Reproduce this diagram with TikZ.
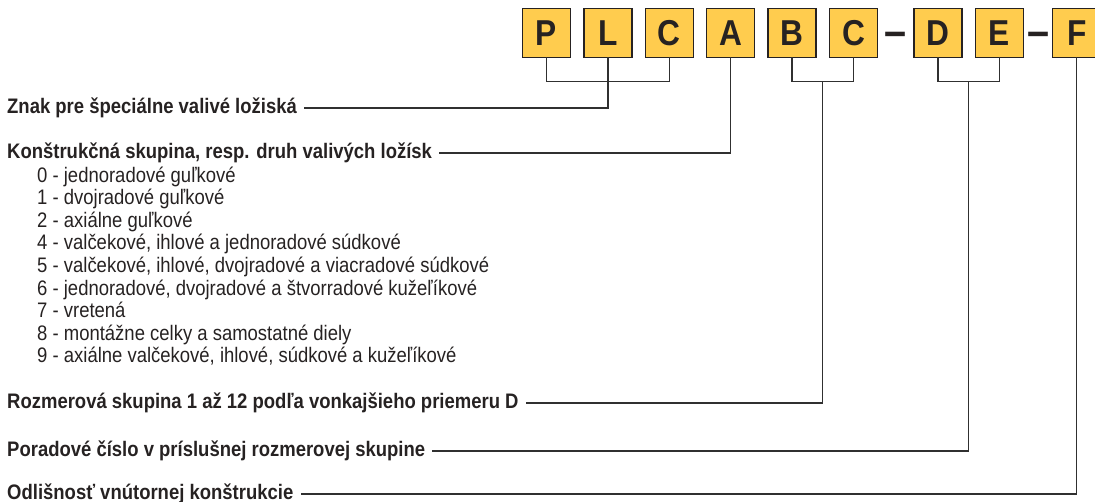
\documentclass[tikz,border=0pt]{standalone}
\usepackage{fontspec}
\setmainfont[FakeStretch=0.88]{Liberation Sans}
\usepackage{tikz}
\usetikzlibrary{positioning,calc}
\definecolor{lzedge}{RGB}{38,34,34}
\definecolor{lzfill}{RGB}{255,204,78}
\definecolor{lzline}{RGB}{48,48,48}
\tikzset{
  znak/.style={
    draw=lzedge, fill=lzfill, line width=1.4pt, outer sep=0pt,
    minimum width=48pt, minimum height=48.6pt, inner sep=0pt,
    font=\fontsize{36}{40}\selectfont\bfseries, text=lzedge
  },
  pomlcka/.style={
    inner sep=0pt, font=\fontsize{45}{50}\selectfont\bfseries, text=lzedge,
    text height=26pt, text depth=0pt
  },
  popis/.style={
    anchor=base west, inner xsep=7pt, inner ysep=0pt,
    text height=10pt, text depth=0pt,
    font=\fontsize{21}{22.6}\selectfont\bfseries, text=lzedge
  },
  zoznam/.style={
    anchor=north west, inner sep=0pt, align=left,
    font=\fontsize{21}{22.6}\selectfont, text=lzedge
  },
  spoj/.style={draw=lzline, line width=1.3pt}
}
\begin{document}
\begin{tikzpicture}[x=1pt, y=-1pt, node distance=13.4pt]
  \useasboundingbox (0,0) rectangle (1095,501);
  % boxes of the designation
  \node[znak] (p) at (546.5,33) {P};
  \node[znak, right=of p] (l) {L};
  \node[znak, right=of l] (c) {C};
  \node[znak, right=of c] (a) {A};
  \node[znak, right=of a] (b) {B};
  \node[znak, right=of b] (c2) {C};
  \node[znak, right=36.4pt of c2] (d) {D};
  \node[znak, right=of d] (e) {E};
  \node[znak, right=29.4pt of e] (f) {F};
  \node[pomlcka] (pom1) at ($(c2.east)!.5!(d.west)$) {–};
  \node[pomlcka] (pom2) at ($(e.east)!.5!(f.west)$) {–};

  % labels
  \node[popis] (znakpopis) at (0,113) {Znak pre špeciálne valivé ložiská};
  \node[popis] (konpopis) at (0,158) {Konštrukčná skupina, resp. druh valivých ložísk};
  \node[zoznam] (druhy) at (37,166.5) {0 - jednoradové guľkové\\
    1 - dvojradové guľkové\\
    2 - axiálne guľkové\\
    4 - valčekové, ihlové a jednoradové súdkové\\
    5 - valčekové, ihlové, dvojradové a viacradové súdkové\\
    6 - jednoradové, dvojradové a štvorradové kužeľíkové\\
    7 - vretená\\
    8 - montážne celky a samostatné diely\\
    9 - axiálne valčekové, ihlové, súdkové a kužeľíkové};
  \node[popis] (rozpopis) at (0,408) {Rozmerová skupina 1 až 12 podľa vonkajšieho priemeru D};
  \node[popis] (porpopis) at (0,456) {Poradové číslo v príslušnej rozmerovej skupine};
  \node[popis] (odlpopis) at (0,499) {Odlišnosť vnútornej konštrukcie};

  % connectors
  \draw[spoj] (p.south) -- ++(0,24) -| (c.south);
  \draw[spoj] (l.south) |- (znakpopis.east);
  \draw[spoj] (a.south) |- (konpopis.east);
  \draw[spoj] (b.south) -- ++(0,24) -| coordinate[pos=.25] (bcstred) (c2.south);
  \draw[spoj] (bcstred) |- (rozpopis.east);
  \draw[spoj] (d.south) -- ++(0,24) -| coordinate[pos=.25] (destred) (e.south);
  \draw[spoj] (destred) |- (porpopis.east);
  \draw[spoj] (f.south) |- (odlpopis.east);
\end{tikzpicture}
\end{document}
